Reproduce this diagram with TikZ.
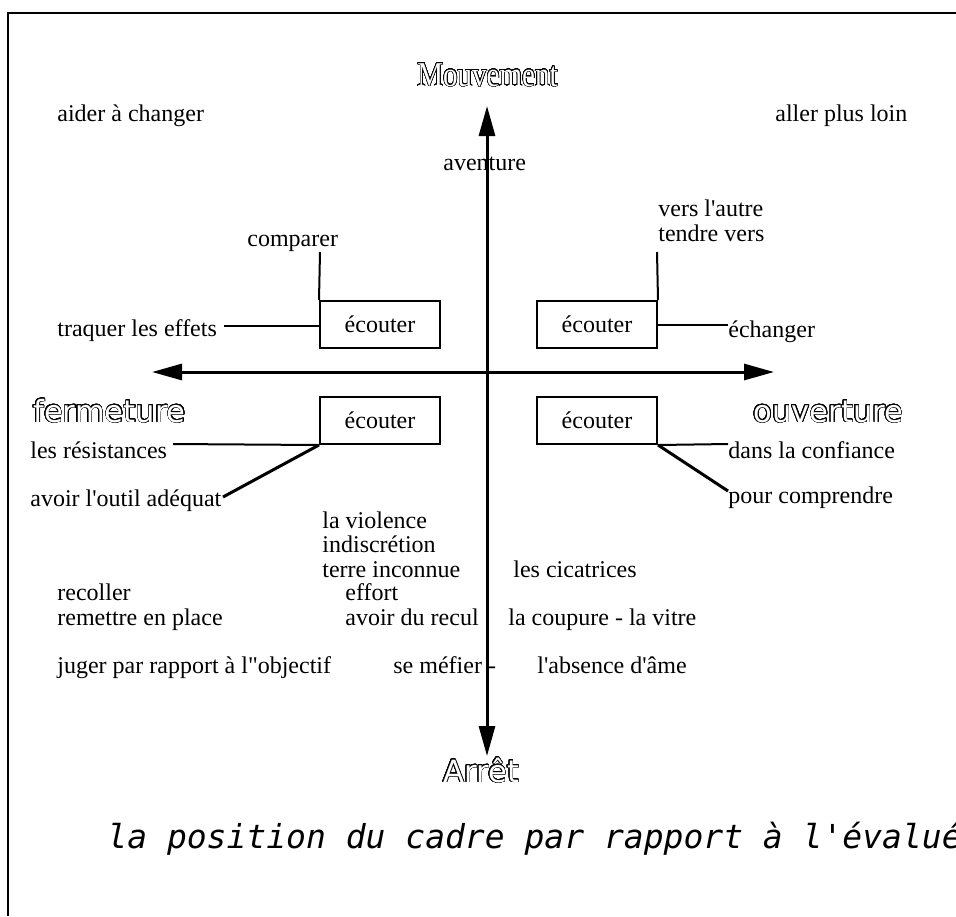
\documentclass[tikz,border=0pt]{standalone}
\usepackage{fontspec}
\setmainfont{Liberation Serif}[Ligatures=TeXOff]
\newfontfamily\headsans{DejaVu Sans}[Ligatures=TeXOff]
\newfontfamily\capmono{DejaVu Sans Mono}[Ligatures=TeXOff]
\usepackage{contour}
\usetikzlibrary{arrows.meta}
\contourlength{0.3pt}
\contournumber{32}
\newcommand{\hollow}[1]{\contour{black}{\textcolor{white}{#1}}}
\tikzset{%
    lbl/.style={anchor=base west, inner sep=0pt, font=\fontsize{12}{14}\selectfont},
    ecbox/.style={draw, line width=1pt, minimum width=60pt, minimum height=23.5pt, inner sep=0pt, font=\fontsize{12}{14}\selectfont},
    axis/.style={line width=1.5pt, {Triangle[length=15pt,width=8pt]}-{Triangle[length=15pt,width=8pt]}},
    link/.style={line width=1pt},
    slant/.style={line width=1.5pt},
    hdsans/.style={anchor=base west, inner sep=0pt, font=\headsans\fontsize{15.3}{18}\selectfont},
    hdserif/.style={anchor=base west, inner sep=0pt, font=\fontsize{14.5}{17}\selectfont}
}

\begin{document}
\begin{tikzpicture}[x=0.5pt, y=-0.5pt]
            \useasboundingbox (0,0) rectangle (956,916);

            % frame (top and left only)
            \draw[line width=1.4pt] (956,13) -- (8,13) -- (8,916);

            % outlined headings
            \node[hdserif] (mvt) at (417,86){\scalebox{1}[1.2]{\hollow{Mouvement}}};
            \node[hdsans] (ferm) at (33,422){\hollow{fermeture}};
            \node[hdsans] (ouv) at (753,422){\hollow{ouverture}};
            \node[hdsans] (arr) at (443,782){\hollow{Arrêt}};

            % corner texts
            \node[lbl] (aider) at (57,121){aider à changer};
            \node[lbl] (aller) at (775,121){aller plus loin};
            \node[lbl] (avent) at (443,170){aventure};

            % the four boxes
            \node[ecbox] (bxTL) at (380,324.5){écouter};
            \node[ecbox] (bxTR) at (597,324.5){écouter};
            \node[ecbox] (bxBL) at (380,420.5){écouter};
            \node[ecbox] (bxBR) at (597,420.5){écouter};

            % labels round the boxes
            \node[lbl] (cmp) at (247,246){comparer};
            \node[lbl] (vers) at (658,216){vers l'autre};
            \node[lbl] (tend) at (658,241){tendre vers};
            \node[lbl] (traq) at (57,336){traquer les effets};
            \node[lbl] (ech) at (728,337){échanger};
            \node[lbl] (res) at (30,458){les résistances};
            \node[lbl] (outil) at (30,506){avoir l'outil adéquat};
            \node[lbl] (conf) at (728,458){dans la confiance};
            \node[lbl] (compr) at (728,503){pour comprendre};

            % free ends of the links
            \coordinate (cmpEnd) at (320,252);
            \coordinate (traqEnd) at (224,326);
            \coordinate (versEnd) at (657,252);
            \coordinate (echEnd) at (728,325);
            \coordinate (resEnd) at (173,444);
            \coordinate (outEnd) at (223,497);
            \coordinate (confEnd) at (728,444);
            \coordinate (comprEnd) at (728,491);

            % links
            \draw[link] (cmpEnd) -- (bxTL.north west);
            \draw[link] (traqEnd) -- (traqEnd -| bxTL.west);
            \draw[link] (versEnd) -- (bxTR.north east);
            \draw[link] (echEnd -| bxTR.east) -- (echEnd);
            \draw[link] (resEnd) -- (bxBL.south west);
            \draw[slant] (bxBL.south west) -- (outEnd);
            \draw[link] (bxBR.south east) -- (confEnd);
            \draw[slant] (bxBR.south east) -- (comprEnd);

            % lower half
            \node[lbl] (viol) at (322,528){la violence};
            \node[lbl] (indis) at (322,552){indiscrétion};
            \node[lbl] (terre) at (322,577){terre inconnue};
            \node[lbl] (eff) at (345,600){effort};
            \node[lbl] (recul) at (345,625){avoir du recul};
            \node[lbl] (cicat) at (513,577){les cicatrices};
            \node[lbl] (coup) at (508,625){la coupure - la vitre};
            \node[lbl] (mef) at (393,673){se méfier -};
            \node[lbl] (ame) at (537,673){l'absence d'âme};
            \node[lbl] (recol) at (57,600){recoller};
            \node[lbl] (remet) at (57,625){remettre en place};
            \node[lbl] (juger) at (57,673){juger par rapport à l"objectif};

            % axes
            \coordinate (vtop) at (487,106);
            \coordinate (vbot) at (487,756);
            \coordinate (hleft) at (152,372);
            \coordinate (hright) at (774,372);
            \draw[axis] (vtop) -- (vbot);
            \draw[axis] (hleft) -- (hright);

            % caption
            \node[anchor=base west, inner sep=0pt, font=\capmono\itshape\fontsize{16.5}{20}\selectfont] (cap) at (107,848){la position du cadre par rapport à l'évalué};
\end{tikzpicture}
\end{document}
